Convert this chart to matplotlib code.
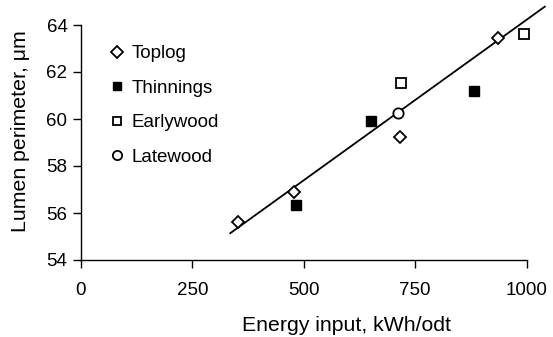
import matplotlib
matplotlib.use("Agg")
import matplotlib.pyplot as plt

plt.rcParams['font.family'] = ['Liberation Sans', 'DejaVu Sans']

# Measurements per wood type: energy input (kWh/odt) and lumen perimeter (um)
toplog_x = [353, 478, 717, 937]
toplog_y = [55.6, 56.88, 59.25, 63.46]
thin_x = [483, 650, 883]
thin_y = [56.34, 59.91, 61.2]
early_x = [719, 994]
early_y = [61.53, 63.63]
late_x = [712]
late_y = [60.24]

# Trend line end points
trend_x = [335, 1041]
trend_y = [55.14, 64.78]

xticks = [0, 250, 500, 750, 1000]
yticks = [54, 56, 58, 60, 62, 64]

W, H = 553, 337
fig = plt.figure(figsize=(W / 100, H / 100), dpi=100)
ax = fig.add_axes([81 / W, 1 - 260 / H, (526.5 - 81) / W, (260 - 25) / H])

ax.plot(trend_x, trend_y, color='black', lw=1.3, clip_on=False, zorder=2)

ax.plot(toplog_x, toplog_y, 'D', ms=6.4, mfc='white', mec='black', mew=1.3,
        ls='none', label='Toplog', clip_on=False, zorder=3)
ax.plot(thin_x, thin_y, 's', ms=7.0, mfc='black', mec='black', mew=1.0,
        ls='none', label='Thinnings', clip_on=False, zorder=3)
ax.plot(early_x, early_y, 's', ms=6.6, mfc='white', mec='black', mew=1.3,
        ls='none', label='Earlywood', clip_on=False, zorder=3)
ax.plot(late_x, late_y, 'o', ms=7.4, mfc='white', mec='black', mew=1.3,
        ls='none', label='Latewood', clip_on=False, zorder=3)

ax.set_xlim(0, 1000)
ax.set_ylim(54, 64)
ax.set_xticks(xticks)
ax.set_yticks(yticks)
ax.tick_params(direction='out', length=5.8, width=1.0, labelsize=13.5)
ax.tick_params(axis='x', pad=10)
ax.tick_params(axis='y', pad=4)
for s in ['top', 'right']:
    ax.spines[s].set_visible(False)
for s in ['left', 'bottom']:
    ax.spines[s].set_linewidth(1.0)

fig.text(347 / W, 1 - 331 / H, 'Energy input, kWh/odt', fontsize=15.3,
         ha='center', va='baseline')
fig.text(21 / W, 1 - 131 / H, 'Lumen perimeter, μm', fontsize=15.3,
         ha='center', va='center', rotation=90)

ax.legend(loc='upper left', frameon=False, fontsize=13.5, handlelength=0.8,
          handletextpad=0.4, labelspacing=0.93, borderaxespad=0,
          borderpad=0, markerscale=0.9,
          bbox_to_anchor=(109.2 / W, 1 - 45 / H), bbox_transform=fig.transFigure)

fig.savefig('out.png', dpi=100)
